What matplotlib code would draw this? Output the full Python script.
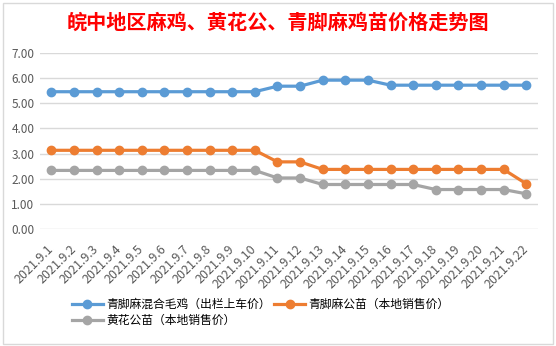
import numpy as np
import matplotlib.pyplot as plt
from matplotlib.patches import Rectangle

plt.rcParams['font.family'] = ['Noto Sans CJK SC', 'DejaVu Sans']

dates = ['2021.9.%d' % d for d in range(1, 23)]

# 青脚麻混合毛鸡（出栏上车价）
mixed = [5.46, 5.46, 5.46, 5.46, 5.46, 5.46, 5.46, 5.46, 5.46, 5.46,
         5.68, 5.68, 5.92, 5.92, 5.92, 5.72, 5.72, 5.72, 5.72, 5.72, 5.72, 5.72]
# 青脚麻公苗（本地销售价）
qjm_male = [3.13, 3.13, 3.13, 3.13, 3.13, 3.13, 3.13, 3.13, 3.13, 3.13,
            2.67, 2.67, 2.37, 2.37, 2.37, 2.37, 2.37, 2.37, 2.37, 2.37, 2.37, 1.8]
# 黄花公苗（本地销售价）
hh_male = [2.33, 2.33, 2.33, 2.33, 2.33, 2.33, 2.33, 2.33, 2.33, 2.33,
           2.03, 2.03, 1.77, 1.77, 1.77, 1.77, 1.77, 1.57, 1.57, 1.57, 1.57, 1.4]

labels = ['青脚麻混合毛鸡（出栏上车价）', '青脚麻公苗（本地销售价）', '黄花公苗（本地销售价）']
colors = ['#5B9BD5', '#ED7D31', '#A5A5A5']

fig = plt.figure(figsize=(5.56, 3.46), dpi=100)
ax = fig.add_axes([40 / 556, 1 - 229 / 346, (537.5 - 40) / 556, (229 - 53) / 346])

x = np.arange(len(dates))
for vals, lab, c in zip([mixed, qjm_male, hh_male], labels, colors):
    ax.plot(x, vals, color=c, lw=2.3, marker='o', ms=6, label=lab)

ax.set_xlim(-0.5, len(dates) - 0.5)
ax.set_ylim(0, 7)
ax.set_yticks(np.arange(0, 7.5, 1))
ax.set_yticklabels(['%.2f' % v for v in np.arange(0, 7.5, 1)])
ax.set_xticks(x)
ax.set_xticklabels(dates, rotation=45, ha='right', va='center', rotation_mode='anchor')
ax.grid(axis='y', color='#D9D9D9', lw=1)
ax.set_axisbelow(True)
for s in ax.spines.values():
    s.set_visible(False)
ax.tick_params(length=0, labelsize=8.5, colors='#595959', pad=4)
ax.tick_params(axis='x', labelsize=9, pad=13)

fig.text(0.5, 1 - 22 / 346, '皖中地区麻鸡、黄花公、青脚麻鸡苗价格走势图',
         ha='center', va='center', color='#FF0000', fontsize=14.5, fontweight='bold')

handles, labs = ax.get_legend_handles_labels()
order = [0, 2, 1]
fig.legend([handles[i] for i in order], [labs[i] for i in order],
           loc='upper left', bbox_to_anchor=(72 / 556, 1 - 298 / 346),
           ncol=2, frameon=False, fontsize=8.5, handlelength=2.6, columnspacing=0.3,
           handletextpad=0.3, labelspacing=0.25, borderaxespad=0, borderpad=0)

fig.add_artist(Rectangle((3 / 556, 2 / 346), 550 / 556, 341 / 346, transform=fig.transFigure,
                         fill=False, ec='#D9D9D9', lw=1))

fig.savefig('out.png', dpi=100)
